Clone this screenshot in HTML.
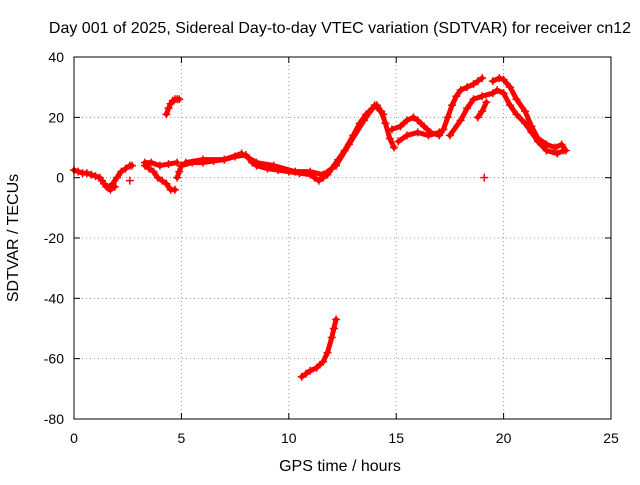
<!DOCTYPE html>
<html><head><meta charset="utf-8"><style>
body{margin:0;background:#fff}
svg text{font-family:"Liberation Sans",sans-serif;font-size:14px;fill:#000}
svg text.big{font-size:16px}
</style></head><body>
<svg id="chart" width="640" height="480" xmlns="http://www.w3.org/2000/svg">
<text class="big" x="340" y="33" text-anchor="middle">Day 001 of 2025, Sidereal Day-to-day VTEC variation (SDTVAR) for receiver cn12</text>
<text class="big" x="340" y="471" text-anchor="middle">GPS time / hours</text>
<text class="big" transform="translate(18,238) rotate(-90)" text-anchor="middle">SDTVAR / TECUs</text>
<g id="grid"></g><g id="ticks"></g><g id="marks"></g>
<rect x="74" y="57" width="537" height="362" fill="none" stroke="#000" stroke-width="1"/>
</svg>
<script>
const xTicks=[0,5,10,15,20,25];
const yTicks=[-80,-60,-40,-20,0,20,40];
const traceA_t=[0,0.2,0.4,0.6,0.8,1.0,1.2,1.4,1.6,1.8,2.0,2.2,2.4,2.6,2.7];
const traceA_v=[2.5,2,1.5,1.5,1,0.5,0,-2,-3.5,-2,0,2,3,4,4];
const traceB_t=[1.3,1.5,1.7,1.9];
const traceB_v=[-1,-3,-4,-3];
const traceC_t=[3.3,3.5,3.7,3.9,4.1,4.3,4.5,4.7];
const traceC_v=[4,3,2,0,-1,-2,-4,-4];
const traceD_t=[3.3,3.6,4.0,4.4,4.8];
const traceD_v=[5,5,4,4.5,5];
const traceE_t=[4.3,4.4,4.5,4.6,4.7,4.8,4.9];
const traceE_v=[21,23,24.5,25.5,26,26,26];
const traceF_t=[4.8,4.9,5,5.5,6,6.5,7,7.5,8,8.3,8.5,9,9.5,10,10.5,11,11.2,11.4,11.6,11.8,12,12.3,12.6,13,13.3,13.6,13.9,14.1,14.3,14.5,14.7,14.9];
const traceF_v=[0,2,4,5,5,5.5,6,7,7.5,5,4,3,2.5,2,1.5,1,0,-1,0,1,3,6,9,14,18,21,23,24,22,18,13,10];
const traceG_t=[5.2,6,7,7.8,8.5,9.3,10.3,11,11.6,12.2,12.8,13.5,14.0,14.4];
const traceG_v=[5,6,6,8,5,4,2,2,1,4,11,19,24,21];
const traceH_t=[14.8,15.2,15.5,15.8,16,16.3,16.6,17,17.2,17.4,17.6,17.8,18,18.3,18.6,18.8,19];
const traceH_v=[16,17,19,20,19,17,15,14,16,20,24,27,29,30,31,32,33];
const traceI_t=[15.1,15.5,16,16.5,17];
const traceI_v=[12,14,15,14,15];
const traceJ_t=[17.5,18,18.3,18.6,19,19.5,19.7,20,20.3,20.6,21,21.3,21.6,22,22.5,22.8];
const traceJ_v=[14,19,23,26,27,28,29,28,24,21,18,15,12,9,8,9];
const traceK_t=[19.5,19.8,20,20.3,20.6,21,21.3,21.6,22,22.4,22.7,22.9];
const traceK_v=[32,33,32.5,30,26,22,17,13,11,10,11,9];
const traceL_t=[18.8,19,19.2];
const traceL_v=[20,22,25];
const traceM_t=[10.6,10.8,11,11.3,11.6,11.8,12,12.1,12.2];
const traceM_v=[-66,-65,-64,-63,-61,-58,-53,-50,-47];
const single_t=[2.6,19.1];
const single_v=[-1,0];
const traces=[[traceA_t,traceA_v],[traceB_t,traceB_v],[traceC_t,traceC_v],[traceD_t,traceD_v],[traceE_t,traceE_v],[traceF_t,traceF_v],[traceG_t,traceG_v],[traceH_t,traceH_v],[traceI_t,traceI_v],[traceJ_t,traceJ_v],[traceK_t,traceK_v],[traceL_t,traceL_v],[traceM_t,traceM_v]];
const X=t=>74+t*(537/25), Y=v=>419-(v+80)*(362/120);
const ns="http://www.w3.org/2000/svg";
const g=document.getElementById('grid'),tk=document.getElementById('ticks'),mk=document.getElementById('marks');
function el(tag,attrs,parent){const e=document.createElementNS(ns,tag);for(const k in attrs)e.setAttribute(k,attrs[k]);parent.appendChild(e);return e;}
xTicks.forEach(t=>{const x=X(t);
 if(t>0&&t<25){const l=el('line',{x1:x,x2:x,y1:57,y2:419,stroke:'#999','stroke-dasharray':'1,3'},g);
 
 }
 el('line',{x1:x,x2:x,y1:419,y2:413,stroke:'#000'},tk);el('line',{x1:x,x2:x,y1:57,y2:63,stroke:'#000'},tk);
 const tx=el('text',{x:x,y:443,'text-anchor':'middle'},tk);tx.textContent=t;
 
 });
yTicks.forEach(v=>{const y=Y(v);
 if(v>-80&&v<40){const l=el('line',{x1:74,x2:611,y1:y,y2:y,stroke:'#999','stroke-dasharray':'1,3'},g);
 
 }
 el('line',{x1:74,x2:80,y1:y,y2:y,stroke:'#000'},tk);el('line',{x1:611,x2:605,y1:y,y2:y,stroke:'#000'},tk);
 const tx=el('text',{x:64,y:y+5,'text-anchor':'end'},tk);tx.textContent=v;
 
 });
function plus(x,y){
 const p=el('path',{d:`M${x-4},${y}h8M${x},${y-4}v8`,stroke:'#f00','stroke-width':1.5},mk);
 
 }
traces.forEach(tr=>{
 const [ts,vs]=tr;
 const pts=ts.map((t,i)=>X(t)+','+Y(vs[i])).join(' ');
 const pl=el('polyline',{points:pts,fill:'none',stroke:'#f00','stroke-width':5,'stroke-linejoin':'round','stroke-linecap':'round'},mk);
 
 
 ts.forEach((t,i)=>plus(X(t),Y(vs[i])));
});
single_t.forEach((t,i)=>plus(X(t),Y(single_v[i])));
</script>
</body></html>
